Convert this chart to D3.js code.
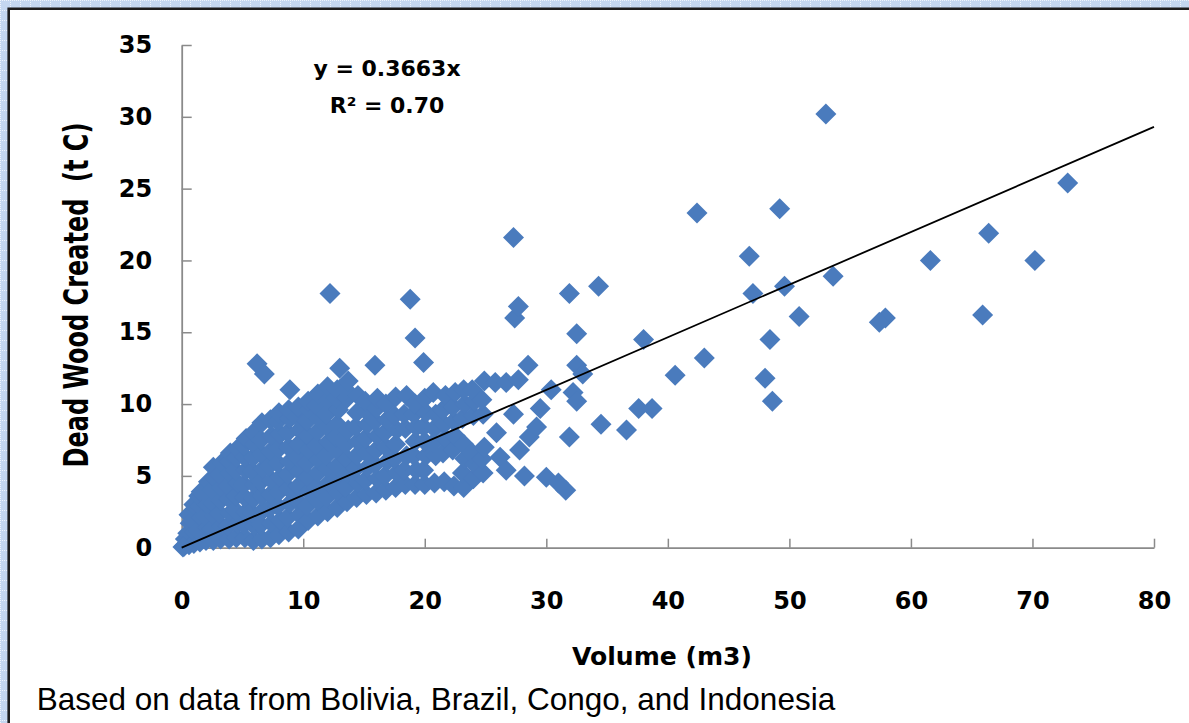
<!DOCTYPE html>
<html><head><meta charset="utf-8">
<script src="https://cdn.jsdelivr.net/npm/d3@7"></script>
<style>html,body{margin:0;padding:0;background:#fff;overflow:hidden}svg{display:block}</style>
</head><body>
<svg id="chart" width="1189" height="723"></svg>
<script>
// ---- data ----
const xTicks = [0, 10, 20, 30, 40, 50, 60, 70, 80];
const yTicks = [0, 5, 10, 15, 20, 25, 30, 35];
const xTitle = "Volume (m3)";
const yTitle = "Dead Wood Created  (t C)";
const equationLines = ["y = 0.3663x", "R² = 0.70"];
const caption = "Based on data from Bolivia, Brazil, Congo, and Indonesia";
const slope = 0.3663;
const trendRange = [0, 80];

// dense cloud near the origin, [volume, dead wood]
const denseCluster = [
[0.2,0.1],[0.3,0.6],
[0.6,0.2],[0.5,1.0],[0.7,1.7],[0.6,2.3],
[1.0,0.3],[1.1,1.1],[0.9,1.9],[1.1,2.6],[1.0,3.0],
[1.5,0.4],[1.4,1.2],[1.6,2.1],[1.5,2.9],[1.4,3.6],[1.6,3.9],
[2.0,0.5],[2.1,1.4],[1.9,2.2],[2.1,3.0],[2.0,3.8],[2.2,4.6],
[2.6,0.5],[2.5,1.3],[2.7,2.2],[2.6,3.1],[2.5,4.0],[2.7,4.9],[2.6,5.6],
[3.2,0.6],[3.3,1.5],[3.1,2.4],[3.2,3.3],[3.3,4.2],[3.1,5.1],[3.3,5.9],
[3.9,0.6],[3.8,1.5],[4.0,2.4],[3.9,3.4],[3.8,4.3],[4.0,5.2],[3.9,6.0],[4.0,6.6],
[4.5,0.7],[4.6,1.7],[4.4,2.6],[4.5,3.6],[4.6,4.5],[4.4,5.4],[4.5,6.3],[4.6,6.9],
[5.2,0.7],[5.1,1.6],[5.3,2.5],[5.2,3.5],[5.1,4.4],[5.3,5.4],[5.2,6.3],[5.1,7.1],[5.3,7.6],
[5.9,0.5],[6.0,1.5],[5.8,2.4],[5.9,3.4],[6.0,4.4],[5.8,5.3],[5.9,6.3],[6.0,7.2],[5.9,8.0],
[6.6,0.6],[6.5,1.6],[6.7,2.6],[6.6,3.6],[6.5,4.6],[6.7,5.5],[6.6,6.5],[6.5,7.5],[6.6,8.7],
[7.3,0.7],[7.4,1.7],[7.2,2.7],[7.3,3.7],[7.4,4.7],[7.2,5.7],[7.3,6.7],[7.4,7.8],[7.3,8.9],
[8.0,0.9],[8.1,1.9],[7.9,2.9],[8.0,3.9],[8.1,4.9],[7.9,5.9],[8.0,6.9],[8.1,7.9],[7.9,8.8],[8.0,9.4],
[8.8,1.1],[8.7,2.1],[8.9,3.1],[8.8,4.1],[8.7,5.1],[8.9,6.0],[8.8,7.0],[8.7,8.0],[8.9,9.0],[8.8,9.6],
[9.6,1.3],[9.7,2.3],[9.5,3.3],[9.6,4.3],[9.7,5.3],[9.5,6.3],[9.6,7.2],[9.7,8.2],[9.5,9.1],[9.6,9.8],
[10.4,1.9],[10.3,2.9],[10.5,3.9],[10.4,4.9],[10.3,5.9],[10.5,6.8],[10.4,7.8],[10.3,8.8],[10.5,9.6],[10.4,10.2],
[11.2,2.2],[11.3,3.2],[11.1,4.2],[11.2,5.2],[11.3,6.1],[11.1,7.1],[11.2,8.1],[11.3,9.0],[11.1,9.9],[11.2,10.7],
[12.0,2.5],[11.9,3.5],[12.1,4.5],[12.0,5.5],[11.9,6.4],[12.1,7.4],[12.0,8.4],[11.9,9.3],[12.1,10.3],[12.0,11.2],
[12.8,2.8],[12.9,3.8],[12.7,4.8],[12.8,5.7],[12.9,6.7],[12.7,7.7],[12.8,8.6],[12.9,9.6],[12.7,10.4],[12.8,11.0],
[13.6,3.2],[13.5,4.2],[13.7,5.2],[13.6,6.2],[13.5,7.2],[13.7,8.2],[13.6,10.4],[13.5,11.0],[13.7,11.6],
[14.4,3.5],[14.5,4.5],[14.3,5.5],[14.4,6.4],[14.5,7.4],[14.3,8.4],[14.4,9.4],[14.5,10.6],
[15.2,3.7],[15.1,4.7],[15.3,5.6],[15.2,6.6],[15.1,7.6],[15.3,8.6],[15.2,9.5],[15.1,10.2],
[16.0,3.8],[16.1,4.8],[15.9,5.8],[16.0,6.8],[16.1,7.8],[15.9,8.8],[16.0,9.7],[16.1,10.4],
[16.8,4.0],[16.7,5.0],[16.9,6.0],[16.8,7.0],[16.7,8.0],[16.9,8.9],[16.8,10.0],
[17.6,4.2],[17.7,5.2],[17.5,6.2],[17.6,7.2],[17.7,8.2],[17.5,9.2],[17.6,10.5],
[18.4,4.4],[18.3,5.4],[18.5,6.4],[18.4,8.3],[18.3,9.3],[18.5,10.6],
[19.2,4.4],[19.3,5.4],[19.1,6.4],[19.2,7.4],[19.3,8.4],[19.1,9.3],[19.2,10.0],
[20.0,4.4],[19.9,5.4],[20.1,6.4],[20.0,7.4],[19.9,8.4],[20.1,9.4],[20.0,10.4],
[20.8,4.5],[20.9,6.4],[20.7,7.3],[20.8,8.3],[20.9,9.3],[20.7,10.8],
[21.6,4.6],[21.5,6.6],[21.7,7.6],[21.6,8.6],[21.5,9.6],[21.7,10.6],
[22.4,4.3],[22.3,6.8],[22.5,7.8],[22.4,8.8],[22.3,9.8],[22.5,10.8],
[23.2,4.2],[23.1,5.2],[23.3,6.2],[23.2,7.2],[23.1,9.0],[23.3,10.0],[23.2,11.0],
[24.0,4.8],[24.1,5.8],[23.9,6.6],[24.0,9.2],[24.1,10.2],[23.9,11.0],
[24.8,5.2],[24.7,6.2],[24.9,7.0],[24.8,9.3],[24.7,10.3],[24.9,11.6]
];

// scattered points between 25 and 45 m3
const spreadPoints = [
[25.9,8.0],[25.8,11.5],[26.7,11.5],[27.7,11.7],[28.5,12.7],[27.3,9.3],[29.5,9.7],
[28.6,7.7],[29.2,8.4],[26.2,6.3],[27.8,6.8],[26.7,5.4],[28.2,5.0],[30.0,4.9],
[31.0,4.5],[31.6,4.0],[30.4,11.0],[31.9,7.7],[32.2,10.8],[32.5,10.2],[32.5,12.7],
[33.0,12.1],[32.5,14.9],[34.5,8.6],[36.6,8.2],[37.6,9.7],[38.7,9.7],[38.0,14.5],
[40.6,12.0],[43.0,13.2],[27.4,16.0],[27.7,16.8],[31.9,17.7],[34.3,18.2],[27.3,21.6]
];

// isolated points
const outliers = [
[53.0,30.2],[72.9,25.4],[42.4,23.3],[49.2,23.6],[66.4,21.9],[46.7,20.3],[61.6,20.0],
[70.2,20.0],[53.6,18.9],[49.6,18.2],[47.0,17.7],[50.8,16.1],[57.9,16.0],[57.4,15.7],
[65.9,16.2],[48.4,14.5],[48.0,11.8],[48.6,10.2],[12.2,17.7],[18.8,17.3],[19.2,14.6],
[19.9,12.9],[6.2,12.8],[6.8,12.1],[8.9,11.0],[13.0,12.5],[15.9,12.7],[0.1,0.05]
];

// ---- drawing ----
const svg = d3.select("#chart");
const W = 1189, H = 723;

// background pattern (light blue dotted grid)
const defs = svg.append("defs");
const pat = defs.append("pattern").attr("id", "bgpat")
  .attr("width", 10).attr("height", 10).attr("patternUnits", "userSpaceOnUse");
pat.append("rect").attr("width", 10).attr("height", 10).attr("fill", "#c4d7f0");
[0, 2, 4, 6, 8].forEach(k => {
  pat.append("rect").attr("x", k).attr("y", 0).attr("width", 1).attr("height", 1).attr("fill", "#eef4fc");
  pat.append("rect").attr("x", 0).attr("y", k).attr("width", 1).attr("height", 1).attr("fill", "#eef4fc");
});
svg.append("rect").attr("width", W).attr("height", H).attr("fill", "url(#bgpat)");
svg.append("rect").attr("x", 8.7).attr("y", 8.7).attr("width", W).attr("height", H).attr("fill", "#fff");
// frame: only top and left edges are visible
svg.append("path").attr("d", `M8.7,${H}V8.7H${W}`)
  .attr("fill", "none").attr("stroke", "#1c1c1c").attr("stroke-width", 2.6);

const x = d3.scaleLinear().domain([0, 80]).range([181.7, 1154]);
const y = d3.scaleLinear().domain([0, 35]).range([547.7, 45]);

const axisColor = "#8a8a8a";
const tickFont = "'DejaVu Sans', sans-serif";

// y axis
const gy = svg.append("g").attr("transform", `translate(${x(0)},0)`)
  .call(d3.axisLeft(y).tickValues(yTicks).tickSize(-10).tickSizeOuter(0).tickPadding(29.5));
// x axis
const gx = svg.append("g").attr("transform", `translate(0,${y(0)})`)
  .call(d3.axisBottom(x).tickValues(xTicks).tickSize(-9).tickSizeOuter(0).tickPadding(44));
[gx, gy].forEach(g => {
  g.select(".domain").attr("stroke", axisColor).attr("stroke-width", 1.8);
  g.selectAll(".tick line").attr("stroke", axisColor).attr("stroke-width", 1.5);
  g.selectAll(".tick text").attr("fill", "#000").attr("font-family", tickFont)
    .attr("font-weight", "bold").attr("font-size", 24);
});

// points
const allPoints = denseCluster.concat(spreadPoints, outliers);
const h = 10.5;
const diamond = `M0,${-h}L${h},0L0,${h}L${-h},0Z`;
svg.append("g").selectAll("path").data(allPoints).join("path")
  .attr("d", diamond)
  .attr("transform", d => `translate(${x(d[0])},${y(d[1])})`)
  .attr("fill", "#4a7bbd");

// trend line
const line = d3.line().x(d => x(d)).y(d => y(slope * d));
svg.append("path").datum(trendRange).attr("d", line)
  .attr("stroke", "#000").attr("stroke-width", 1.8).attr("fill", "none");

// equation
svg.append("g").selectAll("text").data(equationLines).join("text")
  .attr("x", 387).attr("y", (d, i) => 76 + i * 37)
  .attr("text-anchor", "middle").attr("font-family", tickFont)
  .attr("font-weight", "bold").attr("font-size", 22).attr("fill", "#000")
  .text(d => d);

// axis titles
svg.append("text").attr("x", 662).attr("y", 665).attr("text-anchor", "middle")
  .attr("font-family", tickFont).attr("font-weight", "bold").attr("font-size", 25)
  .attr("textLength", 180).attr("lengthAdjust", "spacingAndGlyphs")
  .attr("fill", "#000").text(xTitle);

svg.append("text").attr("transform", "translate(88,295) rotate(-90) scale(1,1.4)")
  .attr("text-anchor", "middle").attr("font-family", tickFont)
  .attr("font-weight", "bold").attr("font-size", 24).attr("fill", "#000")
  .style("white-space", "pre")
  .text(yTitle);

// caption
svg.append("text").attr("x", 36.7).attr("y", 710)
  .attr("font-family", "'Liberation Sans', Arial, sans-serif").attr("font-size", 31.5)
  .attr("fill", "#000").text(caption);
</script>
</body></html>
